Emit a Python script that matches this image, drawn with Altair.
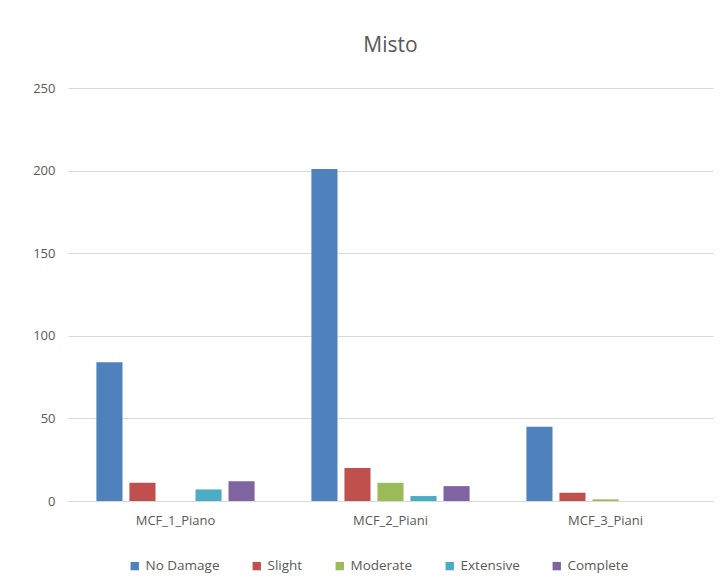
import altair as alt
import pandas as pd

groups = ["MCF_1_Piano", "MCF_2_Piani", "MCF_3_Piani"]
states = ["No Damage", "Slight", "Moderate", "Extensive", "Complete"]
no_damage = [84, 201, 45]
slight = [11, 20, 5]
moderate = [0, 11, 1]
extensive = [7, 3, 0]
complete = [12, 9, 0]
colors = ["#4F81BD", "#C0504D", "#9BBB59", "#4BACC6", "#8064A2"]

series = [no_damage, slight, moderate, extensive, complete]
rows = []
for s, vals in zip(states, series):
    for g, v in zip(groups, vals):
        rows.append({"group": g, "state": s, "value": v})
df = pd.DataFrame(rows)

font = "Open Sans"
txt = "#595959"

chart = alt.Chart(df).mark_bar().encode(
    x=alt.X("group:N", sort=groups, title=None,
            scale=alt.Scale(paddingInner=0, paddingOuter=0),
            axis=alt.Axis(labelAngle=0, ticks=False, domainColor="#D9D9D9",
                          labelColor=txt, labelFont=font, labelFontSize=13,
                          labelPadding=13)),
    xOffset=alt.XOffset("state:N", sort=states,
                        scale=alt.Scale(paddingInner=0.21, paddingOuter=0.86)),
    y=alt.Y("value:Q", title=None,
            scale=alt.Scale(domain=[0, 250]),
            axis=alt.Axis(values=[0, 50, 100, 150, 200, 250], ticks=False, domain=False,
                          gridColor="#D9D9D9", labelColor=txt, labelFont=font,
                          labelFontSize=13, labelPadding=13)),
    color=alt.Color("state:N", sort=states,
                    scale=alt.Scale(domain=states, range=colors),
                    legend=alt.Legend(title=None, orient="none", direction="horizontal",
                                      legendX=60, legendY=471,
                                      symbolType="square", symbolSize=70,
                                      labelFont=font, labelFontSize=13.5, labelColor=txt,
                                      columnPadding=30)),
).properties(
    width=645,
    height=413,
    title=alt.TitleParams("Misto", fontSize=21, font=font, fontWeight="normal",
                          color=txt, offset=26),
    autosize=alt.AutoSizeParams(type="none"),
    padding={"left": 60, "top": 80, "right": 5, "bottom": 85},
).configure_view(stroke=None)

chart.save("out.html", embed_options={"renderer": "svg", "actions": False})
